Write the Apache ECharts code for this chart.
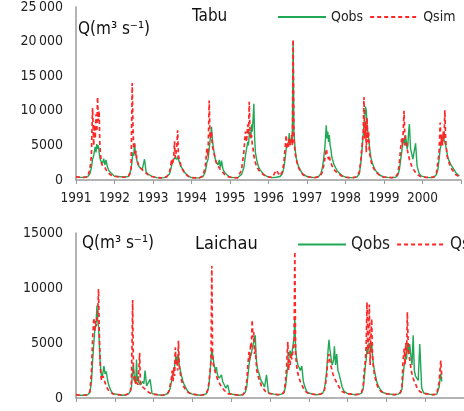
<!DOCTYPE html>
<html>
<head>
<meta charset="utf-8">
<style>
  html, body { margin: 0; padding: 0; background: #fff; }
  #main { width: 464px; height: 411px; }
</style>
</head>
<body>
<div id="main"></div>
<script src="https://cdn.jsdelivr.net/npm/echarts@6/dist/echarts.min.js"></script>
<script type="text/javascript">
// sampling grid: year + fraction of the year
var years = [1991, 1992, 1993, 1994, 1995, 1996, 1997, 1998, 1999, 2000];
var fracs = [0.00, 0.10, 0.20, 0.30, 0.36, 0.40, 0.43, 0.46, 0.48, 0.50, 0.52, 0.54, 0.56,
             0.58, 0.60, 0.62, 0.64, 0.66, 0.69, 0.72, 0.75, 0.78, 0.82, 0.86, 0.91, 0.96];
var yearTicks = ['1991', '1992', '1993', '1994', '1995', '1996', '1997', '1998', '1999', '2000'];

// Tabu, discharge m3/s
var tabuObs = [
  450,400,380,450,900,1800,3000,3500,4200,4800,4000,5200,4500,5000,4000,3200,2800,3000,2400,3100,2200,2900,1800,1300,1000,800,
  550,500,450,450,500,700,1500,3000,4000,3500,5300,4000,3500,2800,2500,2200,1900,2000,1700,1500,1600,3000,1200,900,700,550,
  450,350,300,350,450,600,900,1500,2000,2400,2800,3000,3200,3000,3300,3000,3400,3000,2500,2000,1800,1500,1100,900,600,450,
  350,300,300,500,1200,2500,3000,4500,5500,6500,7700,6000,5000,4200,3500,3000,2600,2500,2200,2900,1800,2800,1500,1100,800,550,
  400,350,350,800,1800,3500,4500,5500,5000,6500,7000,6000,8000,7000,9000,11000,6000,4000,3000,2300,1800,1500,1200,900,700,500,
  450,350,400,500,900,1800,3000,4500,5000,4800,5500,6800,5000,6000,5500,6500,20000,7000,4500,3200,2500,2000,1500,1100,800,550,
  500,400,350,500,900,1800,3000,4500,6000,7900,6000,7000,5500,6500,5000,4500,3500,3000,2400,2000,1700,1400,1100,900,650,500,
  400,350,350,450,900,2500,4500,6500,8000,9000,10600,10000,8000,7000,6000,5000,4000,3200,2600,2100,1700,1400,1100,900,650,500,
  450,380,350,400,700,1500,2800,4000,5000,5500,6000,5000,6500,5500,4500,5000,7000,8100,4500,3800,3000,2800,5300,2000,1000,600,
  450,380,350,400,800,1500,3000,4500,5000,5500,6000,6500,5800,6000,5000,4500,3800,3200,2800,2400,2100,1900,1500,1100,800,600
];
var tabuSim = [
  450,400,380,450,1500,3500,10400,5000,8000,6000,9500,7000,12000,8500,10000,5000,3500,2500,2000,2200,1800,1500,1100,900,700,600,
  550,450,400,420,500,600,1200,14000,7700,4500,5500,3500,4200,3000,2600,2200,2000,1800,1600,1500,1300,1200,1000,800,600,500,
  450,350,300,350,500,700,1200,2000,3000,2200,2600,3500,5600,3200,4000,5000,7200,3500,2800,2200,1700,1400,1000,800,550,400,
  350,300,300,600,2000,4500,3500,11500,6500,6000,7000,5000,4500,4000,3500,3000,2600,2300,2000,1800,1500,1300,1100,800,600,450,
  400,350,300,1500,4000,7000,5500,8000,6500,11300,7000,6000,6500,5000,4500,3500,3000,2500,2000,1700,1400,1200,1000,800,600,450,
  450,350,1400,600,1200,2500,4500,6500,4500,5500,4800,6000,5000,5500,6500,5000,20300,6000,4000,3000,2300,1800,1400,1000,700,500,
  500,400,350,450,700,1200,2000,3000,3500,4500,3800,4000,3000,3500,2800,2500,2200,2000,1600,1400,1200,1000,900,700,550,450,
  400,350,350,500,1200,3000,5000,7000,12000,6000,8500,4000,9000,5500,7000,4000,3500,2800,2200,1800,1500,1200,1000,800,600,450,
  450,380,350,450,900,2500,4500,6000,5000,7000,10000,6500,5000,5500,4500,4000,3500,3000,2500,2000,1700,1400,1100,800,600,450,
  450,380,350,450,1000,2500,4000,8300,5000,6500,5000,7000,6000,10100,6000,4500,3500,3000,2500,2000,1700,1400,1100,800,600,450
];

// Laichau, discharge m3/s (visible part only)
var laiObs = [
  300,250,250,300,500,1500,3500,5000,6000,6500,7000,8400,7000,6500,5000,3500,2500,1800,2200,2900,2200,2400,1500,1000,600,400,
  350,300,250,300,400,600,1000,2500,3000,2000,1500,1300,3500,1500,2000,1400,1300,1200,1300,1500,1300,2500,1100,1000,1700,400,
  350,300,250,300,400,600,900,1500,2000,2200,2500,2800,3500,3800,3200,3500,4000,3000,2500,2000,1600,1300,1000,700,500,400,
  350,300,250,300,400,700,1300,2500,3500,4400,4000,3500,3000,2700,2500,2800,2200,2000,1800,1800,2100,1500,1200,900,1200,400,
  350,300,250,300,500,1000,2000,3000,3500,3800,4000,4500,4800,5000,5500,5700,4000,3000,2500,2200,1800,1500,1300,1000,2100,450,
  400,350,300,350,500,1000,2000,3000,3500,4000,4300,4000,3800,4500,5000,5500,7200,4500,3500,3000,2900,2500,2900,1500,900,500,
  400,350,300,350,450,800,1500,2500,3500,4500,5300,4500,4000,3500,3000,3200,3500,4700,3000,4000,2500,2200,1600,1000,600,450,
  400,350,300,350,450,800,1800,3000,3500,4500,4000,4800,5000,4500,4200,5000,4000,3200,2500,2000,1500,1200,900,700,500,400,
  400,350,300,350,450,800,2000,3000,3500,4000,3500,5000,4500,4000,4900,4200,3500,3000,5700,2500,2000,1800,1600,4900,900,450,
  400,350,300,350,1000,2200,1500
];
var laiSim = [
  300,250,250,300,600,2500,5500,7300,6000,7000,6500,7200,7500,9900,6000,3500,2000,1600,2000,1800,1400,1100,800,600,450,350,
  350,300,250,300,400,600,1500,8900,2500,1500,2000,1200,1400,1300,1200,1300,4100,1200,1100,1000,900,800,700,550,400,350,
  350,300,250,300,400,700,1200,1800,2500,1500,2800,2000,4600,3000,3500,2500,5200,3000,2200,1600,1300,1000,800,600,450,350,
  350,300,250,300,400,800,1500,2700,3500,12000,4000,3000,2800,2500,2200,2000,1800,1600,1400,1200,1000,900,700,550,400,350,
  350,300,250,300,600,1500,3000,4200,3500,5000,4500,7100,5500,6000,4000,4500,3500,2500,2000,1700,1400,1100,900,700,500,400,
  400,350,300,350,500,1500,3000,5100,2500,3500,3000,4000,3500,4000,4500,5000,13300,4000,2800,2200,1800,1500,1200,900,600,450,
  400,350,300,350,450,700,1200,2000,3000,3500,4000,3500,3000,2800,2500,2200,2000,1800,1600,1400,1200,1000,800,600,450,400,
  400,350,300,350,500,1000,2500,3500,5000,8700,4000,6000,8500,3000,5500,7200,4000,3000,2200,1700,1300,1000,800,600,450,400,
  400,350,300,350,500,1000,3500,4500,3000,5000,4000,7800,5000,4000,3500,3000,2500,2200,1800,1500,1300,1000,800,600,450,400,
  400,350,300,350,1500,3400,1800
];

var times = [];
years.forEach(function (y) {
    fracs.forEach(function (f) { times.push(+(y + f).toFixed(2)); });
});
function pairs(vals) {
    return vals.map(function (v, i) { return [times[i], v]; });
}

var txtFont = "'DejaVu Sans Condensed', 'DejaVu Sans', sans-serif";
var green = '#1fa855', red = '#ff2626';

function spaced(v) {
    return v >= 10000 ? String(v).replace(/(\d{3})$/, '\u2009$1') : String(v);
}
function legendBox(top, left, gap, size) {
    return {
        top: top, left: left, width: 400, orient: 'horizontal',
        itemWidth: 48, itemHeight: 12, itemGap: gap,
        itemStyle: { opacity: 0 },
        textStyle: { fontSize: size, color: '#222', fontFamily: txtFont },
        data: ['Qobs', 'Qsim']
    };
}

var myChart = echarts.init(document.getElementById('main'));
var option = {
    animation: false,
    textStyle: { fontFamily: txtFont },
    grid: [
        { left: 76, top: 7, right: -5, height: 173 },
        { left: 76, top: 233, right: -23, height: 165 }
    ],
    xAxis: [0, 1].map(function (g) {
        return {
            gridIndex: g, type: 'value', min: 1991, max: 2001, interval: 1,
            splitLine: { show: false },
            axisLine: { lineStyle: { color: '#9a9a9a', width: 1.5 } },
            axisTick: { show: true, length: 4, lineStyle: { color: '#9a9a9a' } },
            axisLabel: {
                show: g === 0, margin: 11, color: '#222', fontSize: 13.5, fontFamily: txtFont,
                formatter: function (v) { return yearTicks[v - 1991] || ''; }
            }
        };
    }),
    yAxis: [
        { gridIndex: 0, type: 'value', min: 0, max: 25000, interval: 5000 },
        { gridIndex: 1, type: 'value', min: 0, max: 15000, interval: 5000 }
    ].map(function (a, g) {
        a.splitLine = { show: false };
        a.axisLine = { show: true, lineStyle: { color: '#9a9a9a', width: 1.5 } };
        a.axisTick = { show: false };
        a.axisLabel = {
            margin: 13, color: '#222', fontSize: 14, fontFamily: txtFont,
            formatter: g === 0 ? spaced : function (v) { return String(v); }
        };
        return a;
    }),
    legend: [legendBox(5, 272, 6, 14), legendBox(231, 292, 6, 17)],
    graphic: [
        { type: 'text', left: 78, top: 21, style: { text: 'Q(m³ s⁻¹)', font: "17px 'DejaVu Sans Condensed', 'DejaVu Sans'", fill: '#111' } },
        { type: 'text', left: 192, top: 8, style: { text: 'Tabu', font: "17px 'DejaVu Sans Condensed', 'DejaVu Sans'", fill: '#111' } },
        { type: 'text', left: 82, top: 235, style: { text: 'Q(m³ s⁻¹)', font: "17px 'DejaVu Sans Condensed', 'DejaVu Sans'", fill: '#111' } },
        { type: 'text', left: 195, top: 235, style: { text: 'Laichau', font: "18px 'DejaVu Sans Condensed', 'DejaVu Sans'", fill: '#111' } }
    ],
    series: [
        { name: 'Qobs', type: 'line', xAxisIndex: 0, yAxisIndex: 0, data: pairs(tabuObs),
          symbol: 'none', color: green, lineStyle: { color: green, width: 1.4 } },
        { name: 'Qsim', type: 'line', xAxisIndex: 0, yAxisIndex: 0, data: pairs(tabuSim),
          symbol: 'none', color: red, lineStyle: { color: red, width: 1.7, type: [4, 3] } },
        { name: 'Qobs', type: 'line', xAxisIndex: 1, yAxisIndex: 1, data: pairs(laiObs),
          symbol: 'none', color: green, lineStyle: { color: green, width: 1.4 } },
        { name: 'Qsim', type: 'line', xAxisIndex: 1, yAxisIndex: 1, data: pairs(laiSim),
          symbol: 'none', color: red, lineStyle: { color: red, width: 1.7, type: [4, 3] } }
    ]
};
myChart.setOption(option);
</script>
</body>
</html>
